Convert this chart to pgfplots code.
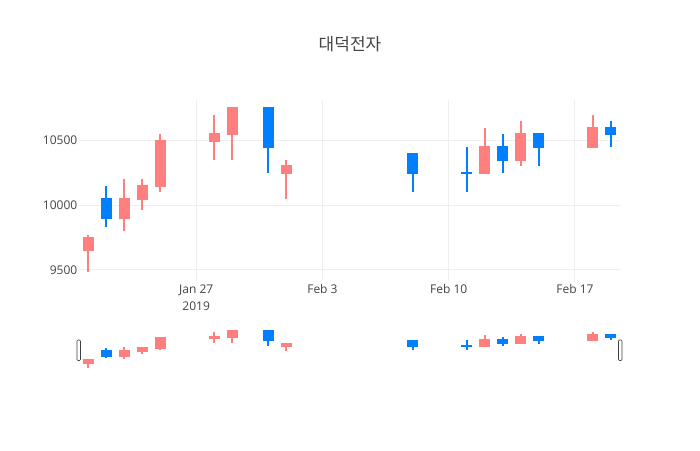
\documentclass[border=0pt]{standalone}
\usepackage{fontspec}
\setmainfont{Open Sans}
\newfontfamily\cjk{Noto Sans CJK KR}
\usepackage{pgfplots}
\usepackage{pgfplotstable}
\pgfplotsset{compat=1.18}
\definecolor{inc}{HTML}{FF7F7F}
\definecolor{dec}{HTML}{0080FF}
\definecolor{txt}{HTML}{444444}
\definecolor{grd}{HTML}{EEEEEE}

% day-of-year: Jan 21 = 21, Feb 1 = 32
\pgfplotstableread{
x open high low close
21 9650 9770 9480 9750
23 9900 10200 9800 10050
24 10050 10200 9960 10150
25 10150 10550 10100 10500
28 10500 10700 10350 10550
29 10550 10750 10350 10750
32 10250 10350 10050 10300
43 10250 10600 10250 10450
45 10350 10650 10300 10550
49 10450 10700 10450 10600
}\incdata
\pgfplotstableread{
x open high low close
22 10050 10150 9830 9900
31 10750 10750 10250 10450
39 10400 10400 10100 10250
42 10250 10450 10100 10250
44 10450 10550 10250 10350
46 10550 10550 10300 10450
50 10600 10650 10450 10550
}\decdata

% #1 = table, #2 = colour, #3 = one pixel in y units
\newcommand\candles[3]{%
  \addplot[draw=none, no markers, forget plot,
    error bars/.cd, y dir=plus, y explicit, error mark=none,
    error bar style={draw=#2, line width=2pt, line cap=butt}]
    table[x=x, y=low, y error expr=\thisrow{high}-\thisrow{low}] {#1};
  \addplot[draw=none, no markers, forget plot,
    error bars/.cd, y dir=plus, y explicit, error mark=none,
    error bar style={draw=#2, line width=11pt, line cap=butt}]
    table[x=x, y expr={min(\thisrow{open},\thisrow{close})-#3},
          y error expr={abs(\thisrow{close}-\thisrow{open})+2*#3}] {#1};
}

\pgfplotsset{
  base/.style={scale only axis, width=541pt, xmin=20.5, xmax=50.5,
    ymin=9414, ymax=10814, axis line style={draw=none},
    scaled y ticks=false, scaled x ticks=false,
    major tick length=0pt, clip=true, anchor=south west},
}

\begin{document}
\begin{tikzpicture}[x=1pt,y=1pt]
\fill[white] (0,0) rectangle (700,450);
\path[use as bounding box] (0,0) rectangle (700,450);
\node[font=\cjk\fontsize{17}{20}\selectfont, text=txt] at (350,406) {대덕전자};

\begin{axis}[base, height=181pt, at={(79pt,169pt)},
  xtick={27,34,41,48},
  xticklabels={{Jan 27\\2019},{Feb 3},{Feb 10},{Feb 17}},
  ytick={9500,10000,10500},
  yticklabels={9500,10000,10500},
  grid=major, major grid style={draw=grd, line width=1pt},
  xticklabel style={font=\fontsize{12}{17}\selectfont, text=txt, align=center,
    anchor=north, inner sep=0pt, yshift=-3.5pt},
  yticklabel style={font=\fontsize{12}{14}\selectfont, text=txt,
    anchor=east, inner sep=0pt, xshift=-1.5pt},
]
\candles{\incdata}{inc}{7.75}
\candles{\decdata}{dec}{7.75}
\end{axis}

\begin{axis}[base, height=41pt, at={(79pt,80pt)},
  xtick=\empty, ytick=\empty, clip=false]
\candles{\incdata}{inc}{34}
\candles{\decdata}{dec}{34}
\draw[draw=black!75, fill=white, line width=0.6pt, rounded corners=1pt]
  ([xshift=-2pt,yshift=9.5pt]rel axis cs:0,0) rectangle ([xshift=1.5pt,yshift=30pt]rel axis cs:0,0);
\draw[draw=black!75, fill=white, line width=0.6pt, rounded corners=1pt]
  ([xshift=-1.5pt,yshift=9.5pt]rel axis cs:1,0) rectangle ([xshift=2pt,yshift=30pt]rel axis cs:1,0);
\end{axis}
\end{tikzpicture}
\end{document}
